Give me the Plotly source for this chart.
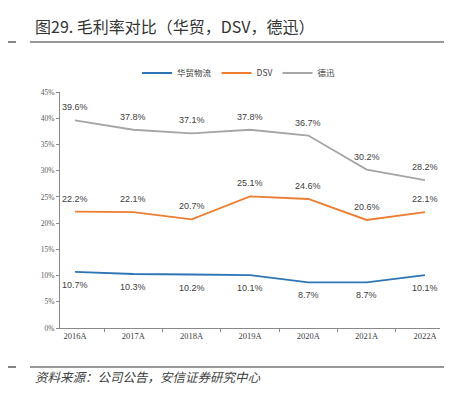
import plotly.graph_objects as go

years = ["2016A", "2017A", "2018A", "2019A", "2020A", "2021A", "2022A"]
huamao = [10.7, 10.3, 10.2, 10.1, 8.7, 8.7, 10.1]
dsv = [22.2, 22.1, 20.7, 25.1, 24.6, 20.6, 22.1]
dexun = [39.6, 37.8, 37.1, 37.8, 36.7, 30.2, 28.2]
y_ticks = [0, 5, 10, 15, 20, 25, 30, 35, 40, 45]

label_font = dict(family="Liberation Sans, Arial, sans-serif", size=9, color="#404040")

fig = go.Figure()
series = [
    ("华贸物流", huamao, "#2E75B6", -13),
    ("DSV", dsv, "#ED7D31", 13),
    ("德迅", dexun, "#A5A5A5", 13),
]
annotations = []
for name, vals, color, shift in series:
    fig.add_trace(go.Scatter(
        x=years, y=vals, name=name, mode="lines",
        line=dict(color=color, width=1.8),
    ))
    for yr, v in zip(years, vals):
        annotations.append(dict(
            x=yr, y=v, xref="x", yref="y", text=f"{v:.1f}%", showarrow=False,
            yshift=shift, xanchor="center", yanchor="middle", font=label_font,
        ))

annotations += [
    dict(text="图29. 毛利率对比（华贸，DSV，德迅）", xref="paper", yref="paper",
         x=(25 - 52) / 380, y=1 + (84 - 18) / 236, xanchor="left", yanchor="middle",
         showarrow=False,
         font=dict(family="Noto Sans CJK SC, sans-serif", size=16, color="#333333")),
    dict(text="<i>资料来源：公司公告，安信证券研究中心</i>", xref="paper", yref="paper",
         x=(25 - 52) / 380, y=-(368 - 320) / 236, xanchor="left", yanchor="middle",
         showarrow=False,
         font=dict(family="Noto Sans CJK SC, sans-serif", size=12.5, color="#404040")),
]

fig.update_layout(
    width=452, height=396,
    margin=dict(l=52, r=20, t=84, b=76),
    paper_bgcolor="white", plot_bgcolor="white",
    showlegend=True,
    legend=dict(orientation="h", x=0.47, xanchor="center", y=1 + (84 - 65) / 236, yanchor="middle",
                font=dict(family="Noto Sans CJK SC, sans-serif", size=8.5, color="#404040"),
                itemwidth=30, tracegroupgap=0),
    xaxis=dict(
        type="category", showgrid=False, showline=True, linecolor="#898989", linewidth=1,
        ticks="outside", ticklen=3, tickcolor="#898989", tickson="boundaries",
        tickfont=dict(family="Liberation Serif, Times New Roman, serif", size=8.5, color="#404040"),
    ),
    yaxis=dict(
        range=[0, 45], tickvals=y_ticks, ticktext=[f"{v}%" for v in y_ticks],
        showgrid=False, showline=True, linecolor="#898989", linewidth=1,
        ticks="outside", ticklen=3, tickcolor="#898989", zeroline=False,
        tickfont=dict(family="Liberation Serif, Times New Roman, serif", size=7.5, color="#595959"),
    ),
    annotations=annotations,
    shapes=[
        dict(type="line", xref="paper", yref="paper", x0=(22 - 52) / 380, x1=(442 - 52) / 380,
             y0=1 + (84 - 34) / 236, y1=1 + (84 - 34) / 236, line=dict(color="#333333", width=1.2)),
        dict(type="line", xref="paper", yref="paper", x0=(0 - 52) / 380, x1=(8 - 52) / 380,
             y0=1 + (84 - 34) / 236, y1=1 + (84 - 34) / 236, line=dict(color="#333333", width=1.2)),
        dict(type="line", xref="paper", yref="paper", x0=(22 - 52) / 380, x1=(442 - 52) / 380,
             y0=-(359 - 320) / 236, y1=-(359 - 320) / 236, line=dict(color="#333333", width=1.2)),
        dict(type="line", xref="paper", yref="paper", x0=(0 - 52) / 380, x1=(8 - 52) / 380,
             y0=-(359 - 320) / 236, y1=-(359 - 320) / 236, line=dict(color="#333333", width=1.2)),
    ],
)

fig.write_html("out.html")
